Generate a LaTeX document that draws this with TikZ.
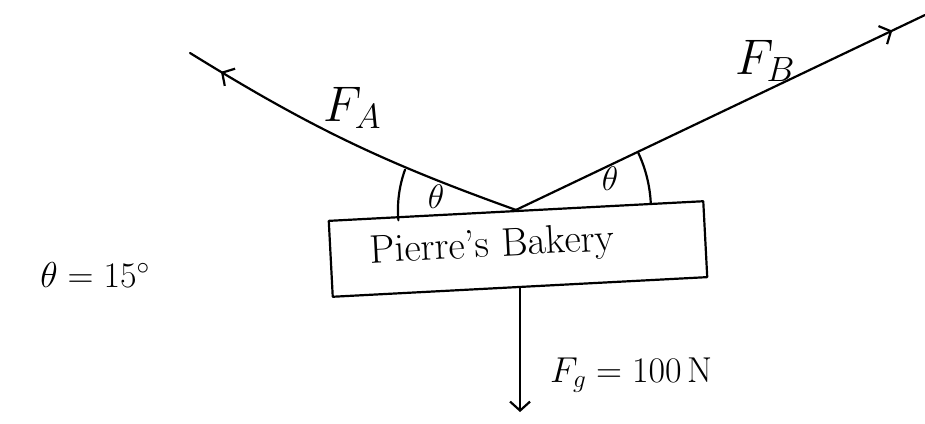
\RequirePackage{fix-cm}
\documentclass[tikz,border=0pt]{standalone}
\usepackage{fontspec}
\usetikzlibrary{arrows.meta,decorations.markings}
\begin{document}
\begin{tikzpicture}[x=1pt,y=1pt,
  stroke/.style={line width=2.2pt, line cap=round, line join=round},
  barb/.tip={Straight Barb[length=9pt,width=20pt,line width=2.2pt]},
  big/.style={inner sep=0pt, font=\fontsize{50}{58}\selectfont},
  mid/.style={inner sep=0pt, font=\fontsize{36}{42}\selectfont},
  small/.style={inner sep=0pt, font=\fontsize{34}{40}\selectfont}]
\useasboundingbox (0,0) rectangle (925,423);
% the sign
\node[draw, stroke, rectangle, rotate=3, minimum width=375pt, minimum height=76pt]
  (box) at (518,174) {};
\node[rotate=3, inner sep=0pt, font=\fontsize{40}{46}\selectfont]
  (name) at (492,176) {Pierre's Bakery};
\coordinate (M) at (box.north);
\coordinate (A) at (190,370);
\coordinate (B) at (925,408);
\coordinate (G) at ([yshift=-124pt]box.south);
% tension forces
\draw[stroke, postaction={decorate},
      decoration={markings, mark=at position 0.9 with {\arrow{barb}}}]
  (M) to[bend left=6] (A);
\draw[stroke, postaction={decorate},
      decoration={markings, mark=at position 0.92 with {\arrow{barb}}}]
  (M) -- (B);
% weight
\draw[stroke, -{barb}] (box.south) -- (G);
% angle arcs
\draw[stroke] (M) ++(185:118pt) arc (185:160:118pt);
\draw[stroke] (M) ++(3:135pt) arc (3:25:135pt);
% labels
\node[big] (FA) at (352,315) {$F_A$};
\node[big] (FB) at (765,362) {$F_B$};
\node[small] (t1) at (436,226) {$\theta$};
\node[small] (t2) at (610,244) {$\theta$};
\node[mid, anchor=west] (Fg) at (550,48) {$F_g = 100\,\mathrm{N}$};
\node[mid] (th) at (95,148) {$\theta = 15^\circ$};
\end{tikzpicture}
\end{document}
